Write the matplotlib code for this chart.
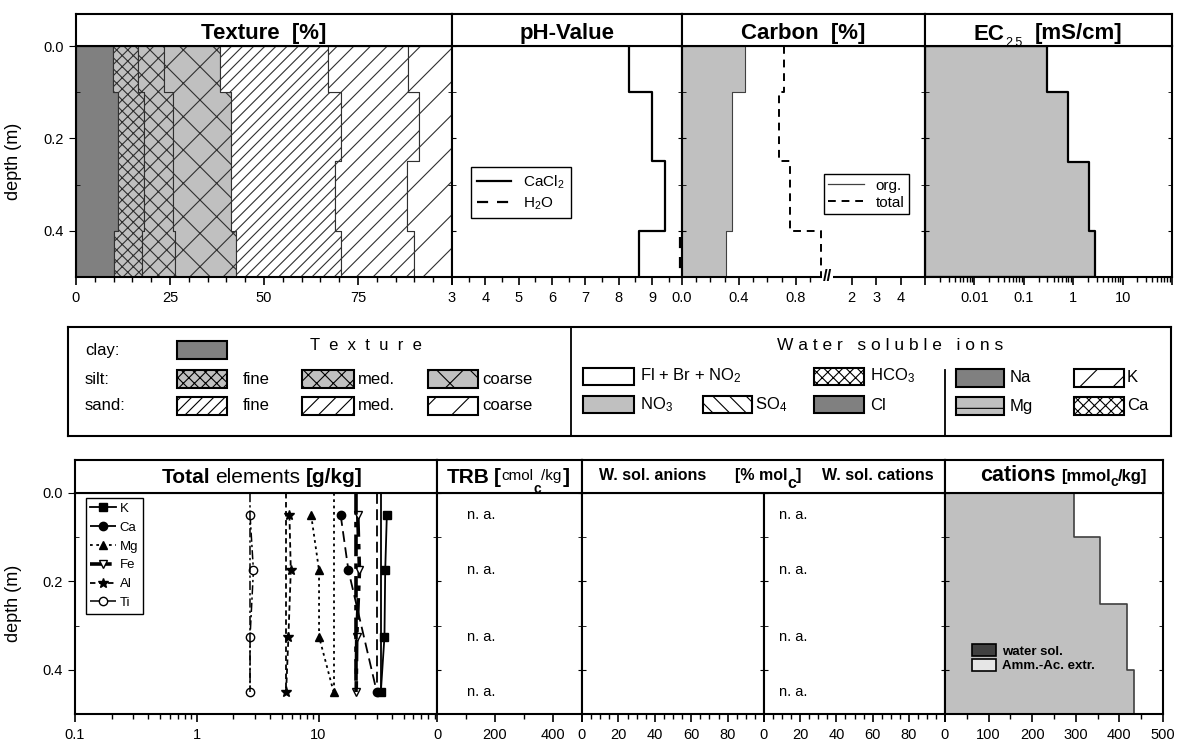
import numpy as np
import matplotlib
matplotlib.use("Agg")
import matplotlib.pyplot as plt
from matplotlib.patches import Rectangle, Patch
from matplotlib.transforms import IdentityTransform
from matplotlib.ticker import MultipleLocator, FixedLocator, LogLocator, NullFormatter, FormatStrFormatter

plt.rcParams['font.family'] = ['Liberation Sans', 'DejaVu Sans']
plt.rcParams['mathtext.fontset'] = 'custom'
plt.rcParams['mathtext.rm'] = 'Liberation Sans'
plt.rcParams['hatch.linewidth'] = 0.8

W, H = 1177, 743

# ---- data ----
layers = [0.0, 0.1, 0.25, 0.4, 0.5]      # horizon boundaries, m
samples = [0.05, 0.175, 0.325, 0.45]     # sample depths, m

# texture fractions per horizon [%]: clay, fine/med/coarse silt, fine/med/coarse sand
texture = np.array([
    [9.8, 6.6, 7.1, 14.7, 28.9, 21.1, 11.8],
    [11.1, 7.1, 7.6, 15.3, 29.3, 20.7, 8.9],
    [11.1, 7.1, 7.6, 15.3, 27.8, 19.1, 12.0],
    [10.2, 7.4, 8.6, 16.3, 27.9, 19.6, 10.0],
])
tex_faces = ['#808080', '#c0c0c0', '#c0c0c0', '#c0c0c0', 'white', 'white', 'white']
tex_hatch = [None, 'xxx', 'xx', 'x', '///', '//', '/']

ph_cacl2 = [8.3, 9.0, 9.4, 8.6]
ph_h2o = [10.1, 10.1, 10.1, 9.85]
c_org = [0.44, 0.35, 0.35, 0.31]
c_total = [0.72, 0.68, 0.76, 0.98]
ec = [0.3, 0.8, 2.1, 2.8]
cations_amm = [295, 356, 417, 433]

el_names = ['K', 'Ca', 'Mg', 'Fe', 'Al', 'Ti']
el_K = [36.4, 35.3, 34.8, 32.5]
el_Ca = [15.2, 17.6, np.nan, 30.1]
el_Mg = [8.7, 10.1, 10.1, 13.3]
el_Fe = [21.0, 21.7, 20.6, 20.4]
el_Al = [5.77, 5.92, 5.66, 5.42]
el_Ti = [2.74, 2.92, 2.74, 2.74]

na_trb = 152      # position of the "n. a." notes
na_cat = 16

fig = plt.figure(figsize=(W / 100, H / 100), dpi=100)


def box(x0, x1, y0, y1):
    return fig.add_axes([x0 / W, 1 - y1 / H, (x1 - x0) / W, (y1 - y0) / H])


def steps(vals):
    y = np.repeat(layers, 2)[1:-1]
    x = np.repeat(np.asarray(vals, float), 2)
    return x, y


def depth_panel(x0, x1, y0, y1, first=False):
    ax = box(x0, x1, y0, y1)
    ax.set_ylim(0.5, 0)
    for s in ax.spines.values():
        s.set_linewidth(1.5)
    ax.yaxis.set_major_locator(MultipleLocator(0.2))
    ax.yaxis.set_minor_locator(MultipleLocator(0.1))
    ax.tick_params(axis='y', which='both', direction='in', length=3, left=True, right=True, labelleft=False)
    ax.tick_params(axis='x', which='major', direction='out', length=6, width=1.2, labelsize=10.5, pad=4)
    ax.tick_params(axis='x', which='minor', direction='out', length=3.5, width=1)
    if first:
        ax.tick_params(axis='y', which='major', direction='out', length=5, labelleft=True, labelsize=10.5)
        ax.yaxis.set_major_formatter(FormatStrFormatter('%.1f'))
        ax.set_ylabel('depth (m)', fontsize=13)
        ax.yaxis.set_label_coords(-(x0 - 22) / (x1 - x0), 0.5)
    return ax


def header(x0, x1, y0, y1):
    ax = box(x0, x1, y0, y1)
    ax.set_xticks([])
    ax.set_yticks([])
    for s in ax.spines.values():
        s.set_linewidth(1.5)
    return ax


renderer = fig.canvas.get_renderer()


def rich(xc, ybase, pieces):
    # pieces: (text, size, weight, dy down in px, gap before in px)
    arts, widths = [], []
    for s, size, weight, dy, gap in pieces:
        t = fig.text(0, 0, s, fontsize=size, fontweight=weight, transform=IdentityTransform(),
                     ha='left', va='baseline')
        widths.append(t.get_window_extent(renderer).width)
        arts.append(t)
    total = sum(widths) + sum(p[4] for p in pieces)
    x = xc - total / 2
    for t, w, p in zip(arts, widths, pieces):
        x += p[4]
        t.set_position((x, H - (ybase + p[3])))
        x += w


# ================= top row =================
TY0, TY1, HY0 = 46, 277, 14

# Texture
ax = depth_panel(76, 452, TY0, TY1, first=True)
cum = np.cumsum(texture, axis=1)
left = cum - texture
for i in range(texture.shape[1]):
    xl, y = steps(left[:, i])
    xr, _ = steps(cum[:, i])
    ax.fill_betweenx(y, xl, xr, facecolor=tex_faces[i], hatch=tex_hatch[i],
                     edgecolor='#303030', linewidth=0.8)
ax.set_xlim(0, 100)
ax.set_xticks([0, 25, 50, 75, 100], ['0', '25', '50', '75', ''])
ax.xaxis.set_minor_locator(MultipleLocator(5))
header(76, 452, HY0, TY0)
rich(264, 39.5, [('Texture  [%]', 16, 'bold', 0, 0)])

# pH
ax = depth_panel(452, 682, TY0, TY1)
x, y = steps(ph_cacl2)
ax.plot(x, y, color='black', lw=1.6, label=r'$\mathregular{CaCl_2}$')
x, y = steps(ph_h2o)
ax.plot(x, y, color='black', lw=1.6, dashes=(5, 4), label=r'$\mathregular{H_2O}$')
ax.set_xlim(3, 9.9)
ax.set_xticks(range(3, 10))
ax.xaxis.set_minor_locator(MultipleLocator(0.5))
leg = ax.legend(loc='upper left', bbox_to_anchor=(0.083, 0.476), fontsize=11, fancybox=False,
                edgecolor='black', framealpha=1, borderaxespad=0, handlelength=2.2, borderpad=0.4,
                labelspacing=0.3)
leg.get_frame().set_linewidth(1.0)
header(452, 682, HY0, TY0)
rich(567, 39.5, [('pH-Value', 16, 'bold', 0, 0)])

# Carbon, broken axis
BRK, KSC = 1.025, 0.172


def c_fwd(v):
    v = np.asarray(v, dtype=float)
    return np.where(v <= BRK, v, BRK + (v - BRK) * KSC)


def c_inv(u):
    u = np.asarray(u, dtype=float)
    return np.where(u <= BRK, u, BRK + (u - BRK) / KSC)


ax = depth_panel(682, 925, TY0, TY1)
ax.set_xscale('function', functions=(c_fwd, c_inv))
x, y = steps(c_org)
ax.fill_betweenx(y, 0, x, facecolor='#c0c0c0', edgecolor='#404040', linewidth=0.8)
ax.plot([], [], color='#404040', lw=0.9, label='org.')
x, y = steps(c_total)
ax.plot(x, y, color='black', lw=1.4, dashes=(4, 3), label='total')
ax.set_xlim(0, 5)
ax.set_xticks([0, 0.4, 0.8, 2, 3, 4], ['0.0', '0.4', '0.8', '2', '3', '4'])
ax.xaxis.set_minor_locator(FixedLocator([0.1, 0.2, 0.3, 0.5, 0.6, 0.7, 0.9]))
ax.annotate('//', xy=(BRK, 0), xycoords=('data', 'axes fraction'), ha='center', va='center',
            fontsize=12, fontweight='bold',
            bbox=dict(boxstyle='square,pad=0.05', facecolor='white', edgecolor='none'))
leg = ax.legend(loc='upper left', bbox_to_anchor=(0.584, 0.446), fontsize=11, fancybox=False,
                edgecolor='black', framealpha=1, borderaxespad=0, handlelength=2.3, borderpad=0.3,
                labelspacing=0.2)
leg.get_frame().set_linewidth(1.0)
header(682, 925, HY0, TY0)
rich(803, 39.5, [('Carbon  [%]', 16, 'bold', 0, 0)])

# EC
ax = depth_panel(925, 1172, TY0, TY1)
ax.set_xscale('log')
x, y = steps(ec)
ax.fill_betweenx(y, 1e-3, x, facecolor='#c0c0c0', edgecolor='black', linewidth=1.6)
ax.set_xlim(1e-3, 100)
ax.set_xticks([0.001, 0.01, 0.1, 1, 10, 100], ['', '0.01', '0.1', '1', '10', ''])
ax.xaxis.set_minor_locator(LogLocator(base=10, subs=range(2, 10), numticks=20))
ax.xaxis.set_minor_formatter(NullFormatter())
header(925, 1172, HY0, TY0)
rich(1048, 39.5, [('EC', 16, 'bold', 0, 0), ('2.5', 9, 'normal', 7, 1), ('[mS/cm]', 16, 'bold', 0, 12)])

# ================= legend box =================
lg = box(68, 1171, 327, 436)
lg.set_xlim(68, 1171)
lg.set_ylim(436, 327)
lg.set_xticks([])
lg.set_yticks([])
for s in lg.spines.values():
    s.set_linewidth(1.5)

swatches = [
    # x, y, w, h, face, hatch
    (177, 341, 50, 18, '#808080', None),
    (177, 370, 50, 18, '#c0c0c0', 'xxx'), (302, 370, 52, 18, '#c0c0c0', 'xx'), (428, 370, 50, 18, '#c0c0c0', 'x'),
    (177, 397, 50, 18, 'white', '///'), (302, 397, 52, 18, 'white', '//'), (428, 397, 50, 18, 'white', '/'),
    (583, 368, 51, 17, 'white', None), (814, 368, 50, 17, 'white', 'xxx'),
    (583, 396, 51, 17, '#c0c0c0', None), (703, 396, 49, 17, 'white', '\\\\'), (814, 396, 50, 17, '#808080', None),
    (956, 369, 48, 18, '#808080', None), (1074, 369, 50, 18, 'white', '/'),
    (956, 397, 48, 18, '#c0c0c0', '-'), (1074, 397, 50, 18, 'white', 'xxx'),
]
for sx, sy, sw, sh, fc, ht in swatches:
    lg.add_patch(Rectangle((sx, sy), sw, sh, facecolor=fc, hatch=ht, edgecolor='black', linewidth=1.5))

labels = [
    (85, 350, 'clay:'), (85, 379, 'silt:'), (85, 406, 'sand:'),
    (243, 379, 'fine'), (358, 379, 'med.'), (482, 379, 'coarse'),
    (243, 406, 'fine'), (358, 406, 'med.'), (482, 406, 'coarse'),
    (640, 376, r'Fl + Br + $\mathregular{NO_2}$'), (870, 376, r'$\mathregular{HCO_3}$'),
    (640, 405, r'$\mathregular{NO_3}$'), (755, 405, r'$\mathregular{SO_4}$'), (870, 405, 'Cl'),
    (1010, 378, 'Na'), (1127, 378, 'K'), (1010, 406, 'Mg'), (1127, 406, 'Ca'),
]
for lx, ly, s in labels:
    lg.text(lx, ly, s, fontsize=12, ha='left', va='center')
lg.text(366, 346, 'T  e  x  t  u  r  e', fontsize=12, ha='center', va='center')
lg.text(890, 345, 'W a t e r   s o l u b l e   i o n s', fontsize=12.5, ha='center', va='center')
lg.plot([571, 571], [327, 436], color='black', lw=1.3)
lg.plot([945, 945], [370, 436], color='black', lw=1.3)

# ================= bottom row =================
BY0, BY1, BH0 = 493, 714, 460

# Total elements
ax = depth_panel(75, 437, BY0, BY1, first=True)
ax.set_xscale('log')
styles = {
    'K': dict(ls='-', marker='s', mfc='black', lw=1.3),
    'Ca': dict(ls=(0, (6, 3)), marker='o', mfc='black', lw=1.3),
    'Mg': dict(ls=(0, (1.5, 2)), marker='^', mfc='black', lw=1.3),
    'Fe': dict(ls=(0, (6, 2, 1.5, 2)), marker='v', mfc='white', lw=2.6),
    'Al': dict(ls=(0, (3, 2)), marker='*', mfc='black', lw=1.3),
    'Ti': dict(ls=(0, (6, 2, 1.5, 2)), marker='o', mfc='white', lw=1.1),
}
for name, vals in zip(el_names, [el_K, el_Ca, el_Mg, el_Fe, el_Al, el_Ti]):
    v = np.asarray(vals, float)
    m = ~np.isnan(v)
    st = styles[name]
    ax.plot(v[m], np.asarray(samples)[m], color='black', linestyle=st['ls'], lw=st['lw'],
            marker=st['marker'], mfc=st['mfc'], mec='black', ms=7 if name == 'Al' else 6, label=name)
    ax.vlines(v[m][-1], 0, np.asarray(samples)[m][-1], colors='black', linestyles=[st['ls']],
              linewidth=st['lw'])
ax.set_xlim(0.1, 94)
ax.set_xticks([0.1, 1, 10], ['0.1', '1', '10'])
ax.xaxis.set_minor_locator(LogLocator(base=10, subs=range(2, 10), numticks=20))
ax.xaxis.set_minor_formatter(NullFormatter())
leg = ax.legend(loc='upper left', bbox_to_anchor=(0.03, 0.977), fontsize=9.5, fancybox=False,
                edgecolor='black', framealpha=1, borderaxespad=0, handlelength=1.9, borderpad=0.35,
                labelspacing=0.5, handletextpad=0.3)
leg.get_frame().set_linewidth(1.0)
header(75, 437, BH0, BY0)
rich(262, 483, [('Total', 15, 'bold', 0, 0), ('elements', 15, 'normal', 0, 5), ('[g/kg]', 15, 'bold', 0, 5)])

# TRB
ax = depth_panel(437, 582, BY0, BY1)
ax.set_xlim(0, 500)
ax.set_xticks([0, 200, 400, 500], ['0', '200', '400', ''])
ax.xaxis.set_minor_locator(FixedLocator([100, 300]))
for d in samples:
    ax.text(na_trb, d, 'n. a.', fontsize=10.5, ha='center', va='center')
header(437, 582, BH0, BY0)
rich(508, 483, [('TRB', 15, 'bold', 0, 0), ('[', 15, 'bold', 0, 4), ('cmol', 11, 'normal', -3, 1),
                ('c', 10, 'bold', 10, 0), ('/kg', 11, 'normal', -3, 0), (']', 15, 'bold', 0, 1)])

# W. sol. anions
ax = depth_panel(582, 764, BY0, BY1)
ax.set_xlim(0, 100)
ax.set_xticks([0, 20, 40, 60, 80, 100], ['0', '20', '40', '60', '80', ''])
ax.xaxis.set_minor_locator(MultipleLocator(5))

# W. sol. cations
ax = depth_panel(764, 945, BY0, BY1)
ax.set_xlim(0, 100)
ax.set_xticks([0, 20, 40, 60, 80, 100], ['0', '20', '40', '60', '80', ''])
ax.xaxis.set_minor_locator(MultipleLocator(5))
for d in samples:
    ax.text(na_cat, d, 'n. a.', fontsize=10.5, ha='center', va='center')
header(582, 945, BH0, BY0)
rich(653, 480, [('W. sol. anions', 11.5, 'bold', 0, 0)])
rich(768, 480, [('[% mol', 11.5, 'bold', 0, 0), ('c', 11.5, 'bold', 8, 0), (']', 11.5, 'bold', 0, 0)])
rich(878, 480, [('W. sol. cations', 11.5, 'bold', 0, 0)])

# cations
ax = depth_panel(945, 1163, BY0, BY1)
x, y = steps(cations_amm)
ax.fill_betweenx(y, 0, x, facecolor='#c0c0c0', edgecolor='#404040', linewidth=1.2)
ax.set_xlim(0, 500)
ax.set_xticks([0, 100, 200, 300, 400, 500])
ax.xaxis.set_minor_locator(MultipleLocator(50))
hd = [Patch(facecolor='#404040', edgecolor='black', linewidth=1.2),
      Patch(facecolor='#e6e6e6', edgecolor='black', linewidth=1.2)]
ax.legend(hd, ['water sol.', 'Amm.-Ac. extr.'], loc='upper left', bbox_to_anchor=(0.1, 0.34),
          frameon=False, prop=dict(size=9.5, weight='bold'), borderaxespad=0, handlelength=1.8,
          handleheight=1.0, labelspacing=0.1, handletextpad=0.5)
header(945, 1163, BH0, BY0)
rich(1064, 481, [('cations', 15.5, 'bold', 0, 0), ('[mmol', 12, 'bold', 0, 5), ('c', 10, 'bold', 5, 0),
                 ('/kg]', 12, 'bold', 0, 0)])

fig.savefig('out.png', dpi=100)
